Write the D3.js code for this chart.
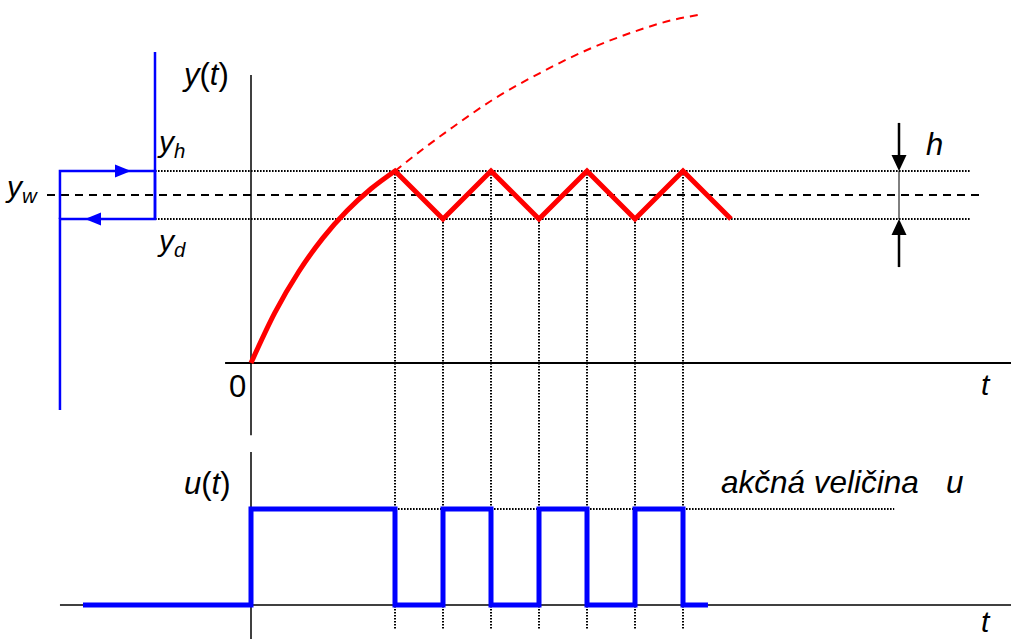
<!DOCTYPE html>
<html>
<head>
<meta charset="utf-8">
<script src="https://cdn.jsdelivr.net/npm/d3@7/dist/d3.min.js"></script>
<style>
  html, body { margin: 0; padding: 0; background: #fff; }
  svg { display: block; }
  text { font-family: "Liberation Sans", Arial, sans-serif; fill: #000; }
</style>
</head>
<body>
<svg id="chart" width="1011" height="639"></svg>
<script>
// Two-position (on/off) control with hysteresis: controlled variable y(t) and action u(t)

// time instants (half-period of the oscillation = 1 unit)
const riseT = [0, 0.5, 1, 1.5, 2, 2.5, 3];
const riseY = [0, 0.301, 0.546, 0.745, 0.906, 1.037, 1.143];

// oscillation between the switching levels
const zigT = [3, 4, 5, 6, 7, 8, 9, 10];
const zigY = [1.143, 0.857, 1.143, 0.857, 1.143, 0.857, 1.143, 0.857];

// open-loop response (heater left on)
const openT = [3.0, 3.6, 4.21, 5.125, 6.02, 7.0, 7.96, 8.79, 9.31];
const openY = [1.143, 1.277, 1.405, 1.583, 1.726, 1.863, 1.97, 2.042, 2.071];

// action variable u(t), held after each switching instant
const uT = [-3.5, 0, 3, 4, 5, 6, 7, 8, 9, 9.52];
const uV = [0, 1, 0, 1, 0, 1, 0, 1, 0, 0];

// levels: setpoint, upper and lower switching level
const yW = 1.0;
const yH = 1.143;
const yD = 0.857;

const svg = d3.select("#chart");

const x = d3.scaleLinear().domain([0, 10]).range([251, 731]);
const yTop = d3.scaleLinear().domain([0, 1]).range([363, 195]);
const yBot = d3.scaleLinear().domain([0, 1]).range([605, 509]);

const g = svg.append("g");

function hline(yPx, x0, x1, opts) {
  return g.append("line")
    .attr("x1", x0).attr("x2", x1).attr("y1", yPx).attr("y2", yPx)
    .attr("stroke", opts.color || "#000")
    .attr("stroke-width", opts.width || 1.5)
    .attr("stroke-dasharray", opts.dash || null);
}
function vline(xPx, y0, y1, opts) {
  return g.append("line")
    .attr("x1", xPx).attr("x2", xPx).attr("y1", y0).attr("y2", y1)
    .attr("stroke", opts.color || "#000")
    .attr("stroke-width", opts.width || 1.5)
    .attr("stroke-dasharray", opts.dash || null);
}
const DOT = "1.6,1.4";
const DOTW = 2;

// switching levels (dotted) and setpoint (dashed)
hline(yTop(yH), x(-2), x(14.98), { dash: DOT, width: DOTW });
hline(yTop(yD), x(-2), x(14.98), { dash: DOT, width: DOTW });
hline(yTop(yW), x(-4.25), x(15.2), { dash: "8,6", width: 2 });

// switching instants (dotted verticals down through both plots)
zigT.forEach((t, i) => {
  if (t > 9) return;
  vline(x(t), yTop(zigY[i]), yBot(-0.26), { dash: DOT, width: DOTW });
});

// u = 1 level (dotted)
hline(yBot(1), x(0), x(13.4), { dash: DOT, width: DOTW });

// axes of y(t)
hline(yTop(0), x(-0.54), 1011, { width: 2 });
vline(x(0), yTop(-0.43), yTop(1.714), { width: 1.5 });

// axes of u(t)
hline(yBot(0), x(-3.98), 1011, { width: 1.5 });
vline(x(0), yBot(1.594), 639, { width: 1.5 });

// hysteresis characteristic of the relay
const hx = [x(-3.98), x(-2)];
g.append("path")
  .attr("d", d3.line()([[hx[1], yTop(1.851)], [hx[1], yTop(yD)], [hx[0], yTop(yD)], [hx[0], yTop(-0.28)]]))
  .attr("fill", "none").attr("stroke", "#0000ff").attr("stroke-width", 2.5);
g.append("path")
  .attr("d", d3.line()([[hx[0], yTop(yD)], [hx[0], yTop(yH)], [hx[1], yTop(yH)], [hx[1], yTop(yD)]]))
  .attr("fill", "none").attr("stroke", "#0000ff").attr("stroke-width", 2.5);
// direction arrows
const tri = d3.line();
g.append("path")
  .attr("d", tri([[115, yTop(yH) - 6.5], [131, yTop(yH)], [115, yTop(yH) + 6.5]]) + "Z")
  .attr("fill", "#0000ff");
g.append("path")
  .attr("d", tri([[101, yTop(yD) - 6.5], [85, yTop(yD)], [101, yTop(yD) + 6.5]]) + "Z")
  .attr("fill", "#0000ff");

// hysteresis width h
const hX = x(13.5);
vline(hX, yTop(1.429), yTop(yH) - 14, { width: 2.5 });
vline(hX, yTop(yH), yTop(yD), { width: 1 });
vline(hX, yTop(yD) + 14, yTop(0.571), { width: 2.5 });
g.append("path")
  .attr("d", tri([[hX - 7.5, yTop(yH) - 16], [hX, yTop(yH)], [hX + 7.5, yTop(yH) - 16]]) + "Z")
  .attr("fill", "#000");
g.append("path")
  .attr("d", tri([[hX - 7.5, yTop(yD) + 16], [hX, yTop(yD)], [hX + 7.5, yTop(yD) + 16]]) + "Z")
  .attr("fill", "#000");

// open-loop continuation (dashed red)
const smooth = d3.line().x(d => x(d[0])).y(d => yTop(d[1])).curve(d3.curveMonotoneX);
g.append("path")
  .attr("d", smooth(openT.map((t, i) => [t, openY[i]])))
  .attr("fill", "none").attr("stroke", "#ff0000").attr("stroke-width", 2)
  .attr("stroke-dasharray", "8,6");

// controlled variable y(t)
const straight = d3.line().x(d => x(d[0])).y(d => yTop(d[1]));
const riseD = smooth(riseT.map((t, i) => [t, riseY[i]]));
const zigD = straight(zigT.map((t, i) => [t, zigY[i]])).replace(/^M/, "L");
g.append("path")
  .attr("d", riseD + zigD)
  .attr("fill", "none").attr("stroke", "#ff0000").attr("stroke-width", 5)
  .attr("stroke-linejoin", "miter");

// action variable u(t)
const step = d3.line().x(d => x(d[0])).y(d => yBot(d[1])).curve(d3.curveStepAfter);
g.append("path")
  .attr("d", step(uT.map((t, i) => [t, uV[i]])))
  .attr("fill", "none").attr("stroke", "#0000ff").attr("stroke-width", 5);

// labels
function label(px, py, size, parts) {
  const t = g.append("text").attr("x", px).attr("y", py).attr("font-size", size);
  parts.forEach(p => {
    const s = t.append("tspan").text(p.s);
    if (p.it) s.attr("font-style", "italic");
    if (p.sub) s.attr("font-size", size * 0.68).attr("dy", p.sub);
  });
  return t;
}
label(184, 85, 31, [{ s: "y", it: true }, { s: "(" }, { s: "t", it: true }, { s: ")" }]);
label(184, 494, 31, [{ s: "u", it: true }, { s: "(" }, { s: "t", it: true }, { s: ")" }]);
label(159, 152, 30, [{ s: "y", it: true }, { s: "h", it: true, sub: 6 }]);
label(159, 251, 30, [{ s: "y", it: true }, { s: "d", it: true, sub: 6 }]);
label(7, 197, 30, [{ s: "y", it: true }, { s: "w", it: true, sub: 6 }]);
label(229, 397, 31, [{ s: "0" }]);
label(981, 395, 30, [{ s: "t", it: true }]);
label(981, 632, 30, [{ s: "t", it: true }]);
label(926, 155, 31, [{ s: "h", it: true }]);
label(721, 493, 31.5, [{ s: "akčná veličina", it: true }]);
label(946, 493, 31.5, [{ s: "u", it: true }]);
</script>
</body>
</html>
